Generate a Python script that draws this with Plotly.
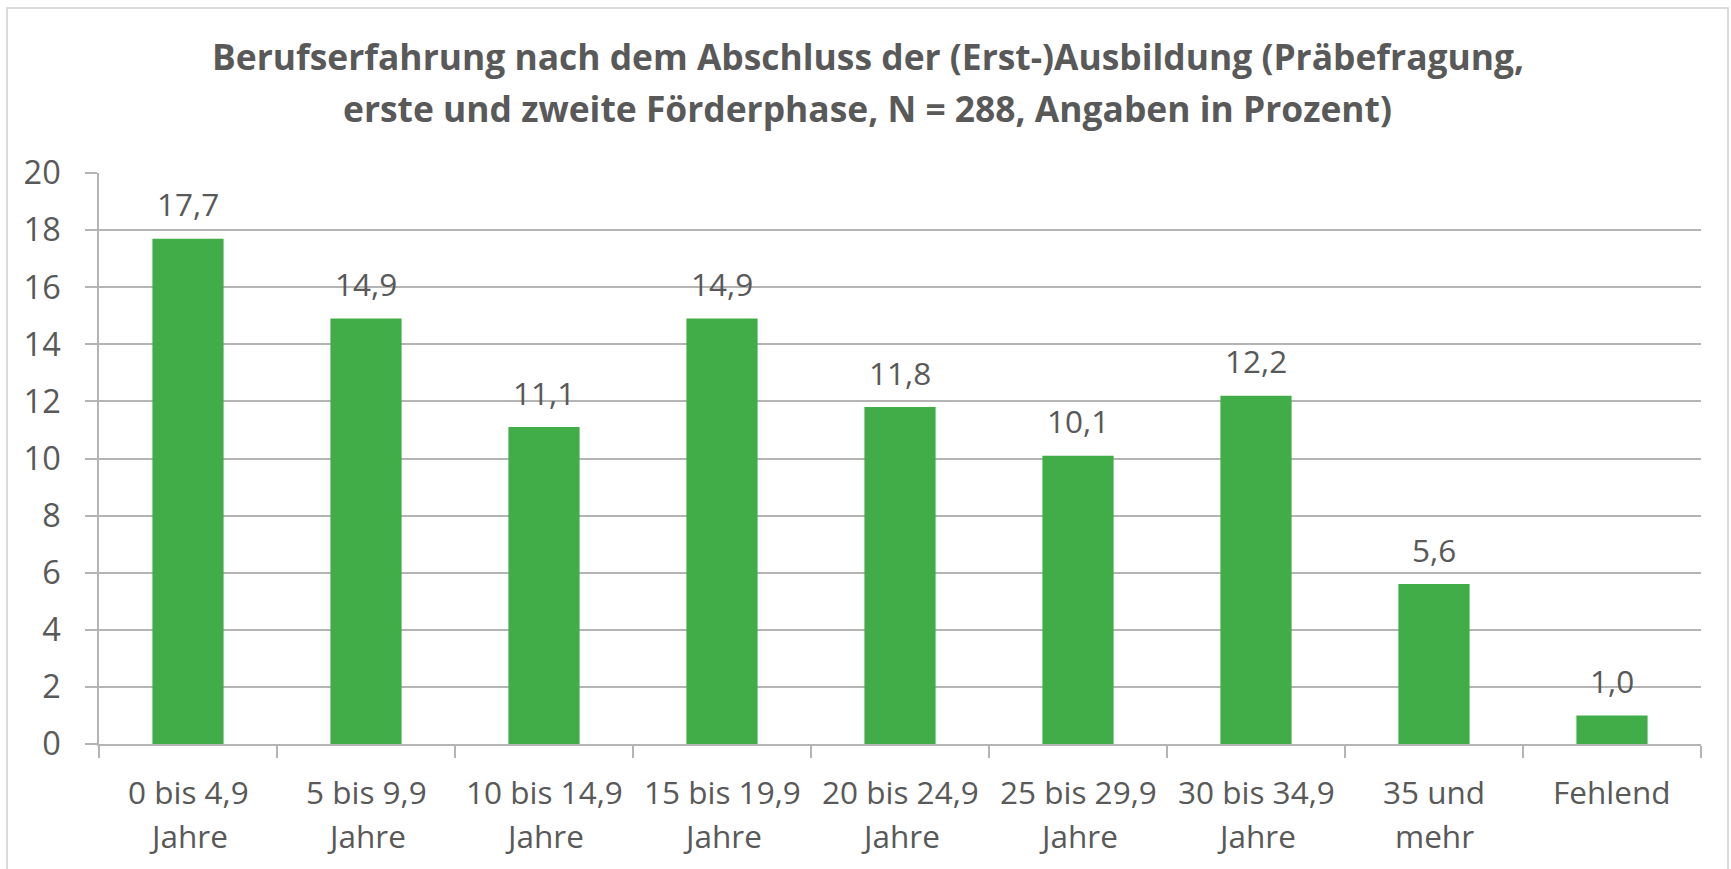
import plotly.graph_objects as go

# ---- data ----
title_lines = [
    "Berufserfahrung nach dem Abschluss der (Erst-)Ausbildung (Präbefragung,",
    "erste und zweite Förderphase, N = 288, Angaben in Prozent)",
]
categories = [
    "0 bis 4,9<br>Jahre",
    "5 bis 9,9<br>Jahre",
    "10 bis 14,9<br>Jahre",
    "15 bis 19,9<br>Jahre",
    "20 bis 24,9<br>Jahre",
    "25 bis 29,9<br>Jahre",
    "30 bis 34,9<br>Jahre",
    "35 und<br>mehr",
    "Fehlend",
]
values = [17.7, 14.9, 11.1, 14.9, 11.8, 10.1, 12.2, 5.6, 1.0]
y_ticks = [0, 2, 4, 6, 8, 10, 12, 14, 16, 18, 20]

# ---- style ----
W, H = 1731, 869
ML, MR, MT, MB = 99, 30, 173, 125
FONT = "Open Sans"
TXT = "#595959"
GRID = "#B4B4B4"
BAR = "#41AD49"
FS = 31.5
plot_w = W - ML - MR
plot_h = H - MT - MB

fig = go.Figure()
fig.add_trace(go.Bar(x=categories, y=values, marker=dict(color=BAR, line=dict(width=0)),
                     hoverinfo="skip"))

annotations = []
# data labels
for c, v in zip(categories, values):
    annotations.append(dict(x=c, y=v, xref="x", yref="y", text=f"{v:.1f}".replace(".", ","),
                            showarrow=False, yanchor="middle", yshift=35,
                            font=dict(family=FONT, size=FS, color=TXT)))
# category labels (two lines with wider spacing)
for c in categories:
    for i, line in enumerate(c.split("<br>")):
        annotations.append(dict(x=c, y=0, xref="x", yref="paper", text=line,
                                showarrow=False, yanchor="middle", yshift=-47 - 44 * i,
                                font=dict(family=FONT, size=FS, color=TXT)))
# title
title_cx = ((7 + 1728) / 2 - ML) / plot_w
for i, line in enumerate(title_lines):
    cy = 56 + 52 * i
    annotations.append(dict(x=title_cx, y=(H - MB - cy) / plot_h, xref="paper", yref="paper",
                            text=f"<b>{line}</b>", showarrow=False, yanchor="middle",
                            xanchor="center",
                            font=dict(family=FONT, size=35.4, color=TXT)))

fig.update_layout(
    width=W, height=H, autosize=False,
    margin=dict(l=ML, r=MR, t=MT, b=MB, pad=0),
    paper_bgcolor="white", plot_bgcolor="white",
    showlegend=False, bargap=0.6,
    font=dict(family=FONT, color=TXT),
    annotations=annotations,
    shapes=[dict(type="rect", xref="paper", yref="paper",
                 x0=(7 - ML) / plot_w, x1=(1728 - ML) / plot_w,
                 y0=-0.4, y1=(H - MB - 8) / plot_h,
                 line=dict(color="#D0D0D0", width=1.5), layer="below")],
)
fig.update_xaxes(
    type="category", showticklabels=False, tickson="boundaries",
    ticks="outside", ticklen=12, tickcolor=GRID, tickwidth=1.5,
    showline=True, linecolor=GRID, linewidth=1.5, showgrid=False, zeroline=False,
    fixedrange=True,
)
fig.update_yaxes(
    range=[0, 20], tickvals=y_ticks, ticktext=[str(t) for t in y_ticks],
    ticks="outside", ticklen=12, tickcolor=GRID, tickwidth=1.5,
    showline=True, linecolor=GRID, linewidth=1.5,
    showgrid=True, gridcolor=GRID, gridwidth=1.5, zeroline=False,
    tickfont=dict(family=FONT, size=32.5, color=TXT), ticklabelstandoff=18,
    fixedrange=True,
)

fig.write_html("out.html", config={"displayModeBar": False},
               post_script="document.body.style.margin='0px';document.body.style.overflow='hidden';")
